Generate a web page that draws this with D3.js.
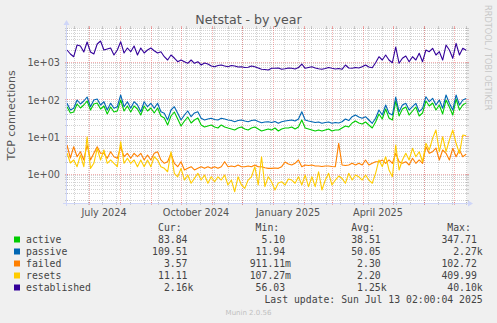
<!DOCTYPE html>
<html>
<head>
<meta charset="utf-8">
<script src="https://cdn.jsdelivr.net/npm/d3@7"></script>
<style>
  html, body { margin: 0; padding: 0; background: #f0f0f0; }
  svg { display: block; }
  text { white-space: pre; }
</style>
</head>
<body>
<svg id="chart" width="497" height="323"></svg>
<script>
// ---- data: netstat counters sampled every few days over the last year ----
const seriesNames  = ["active", "passive", "failed", "resets", "established"];
const seriesColors = ["#00cc00", "#0066b3", "#ff8000", "#ffcc00", "#330099"];

const active = [66.3,45.0,47.8,78.3,61.2,73.6,94.3,54.1,78.3,83.3, 57.5,69.2,42.3,65.1,47.8,50.9,100.3,50.9,69.2,47.8,
  69.2,57.5,39.7,69.2,50.9,61.2,45.0,61.2,37.4,33.0, 21.5,37.4,47.8,31.1,20.2,27.4,35.1,24.3,29.2,33.0,
  21.5,19.0,20.2,21.5,19.0,17.8,21.5,19.0,17.8,16.8, 15.8,17.8,19.0,16.8,15.8,17.8,19.0,16.8,14.8,15.8,
  16.8,15.8,17.8,14.8,16.8,17.8,17.8,19.0,16.8,19.0, 29.2,17.8,16.8,15.8,14.8,15.8,14.8,15.8,16.8,14.8,
  15.8,15.8,17.8,20.2,19.0,24.3,27.4,24.3,22.8,25.8, 21.5,17.8,25.8,42.3,31.1,57.5,33.0,29.2,94.3,37.4,
  57.5,65.1,39.7,50.9,65.1,37.4,45.0,94.3,69.2,83.3, 54.1,73.6,42.3,100.3,65.1,39.7,106.6,54.1,73.6,83.84];

const passive = [81.8,54.1,60.1,100.3,78.3,94.3,120.6,66.3,100.3,106.6, 73.6,90.3,54.1,81.8,60.1,66.3,136.5,66.3,90.3,60.1,
  90.3,73.6,48.7,90.3,66.3,81.8,60.1,81.8,48.7,44.1, 29.2,54.1,66.3,44.1,29.2,39.7,50.9,35.8,45.0,48.7,
  32.4,29.2,31.1,32.4,30.1,29.2,32.4,31.1,29.2,28.3, 26.3,28.3,29.2,27.4,26.3,28.3,29.2,26.6,24.7,25.8,
  26.3,25.0,26.6,23.8,26.3,27.4,28.3,29.2,27.4,31.1, 48.7,29.2,27.4,26.3,25.0,25.8,23.8,25.0,25.8,23.8,
  25.0,24.3,26.3,31.1,28.3,35.8,39.7,35.1,32.4,35.8, 29.2,23.8,32.4,54.1,39.7,73.6,44.1,39.7,120.6,48.7,
  73.6,81.8,54.1,66.3,81.8,48.7,60.1,122.9,90.3,111.3, 73.6,100.3,60.1,136.5,81.8,54.1,136.5,73.6,100.3,109.51];

const failed = [6.25,2.80,5.62,3.03,4.13,2.48,6.25,2.48,3.74,5.62, 3.74,3.74,2.75,4.13,3.03,2.75,5.62,3.03,3.74,2.75,
  3.74,3.03,3.74,2.48,3.37,2.48,3.74,4.13,2.48,2.02, 2.23,3.74,2.02,1.64,2.23,1.34,1.48,1.64,1.34,1.48,
  1.64,1.48,1.64,1.48,1.64,1.48,1.64,2.23,1.64,1.71, 1.64,1.82,1.64,1.64,1.71,1.64,1.82,1.64,1.64,1.54,
  1.48,1.48,1.51,1.48,1.64,2.19,1.93,1.82,2.02,2.48, 1.64,1.82,1.76,1.82,1.71,1.71,1.66,1.71,1.71,1.66,
  1.64,6.94,1.82,1.76,1.82,2.02,1.82,2.02,1.82,2.48, 1.82,2.02,2.23,2.23,2.48,2.02,2.48,2.02,3.74,2.23,
  2.02,2.23,1.82,2.75,2.02,2.48,2.02,5.62,3.74,4.13, 5.19,2.48,4.59,3.74,2.48,5.10,3.03,4.59,3.03,3.57];

const resets = [3.81,2.06,2.48,1.64,3.37,1.64,10.42,1.48,2.02,5.10, 2.48,4.59,2.02,2.48,2.02,1.64,7.66,2.02,2.75,2.02,
  2.48,1.64,2.48,1.64,2.48,1.64,3.03,2.48,1.64,1.48, 1.20,4.13,1.09,0.88,1.48,0.72,0.98,0.59,0.80,1.09,
  0.72,0.98,0.59,0.88,0.65,0.88,0.72,0.98,0.53,0.72, 0.35,0.88,0.53,0.43,0.72,0.88,1.64,0.53,3.03,0.48,
  0.88,0.64,0.39,0.60,0.65,0.53,0.77,0.72,0.59,0.88, 0.53,0.98,0.48,0.88,0.48,1.20,0.39,0.72,1.09,0.53,
  0.72,0.92,0.80,0.59,1.09,0.72,0.98,0.88,0.72,0.98, 0.72,0.59,1.09,2.48,1.64,3.03,1.34,0.88,6.25,1.34,
  2.48,3.74,2.48,5.10,3.03,4.13,2.23,6.94,4.59,9.44, 15.76,4.13,10.42,4.13,8.50,15.76,6.94,3.74,11.57,11.11];

const established = [2190,1711,1449,2981,2803,1936,3588,1936,1711,3171, 3815,2190,2330,2478,1609,2190,3655,1820,2478,1972,
  2803,1609,2478,1820,2190,2478,2098,1820,1972,1449, 1182,1609,1337,1064,1182,1064,964,1182,964,1064,
  868,982,923,816,782,842,868,816,782,842, 816,767,782,744,753,816,782,722,666,658,
  638,708,708,722,666,691,722,708,678,744, 923,708,744,782,722,691,666,700,744,708,
  678,700,666,868,722,708,744,722,782,868, 767,735,1000,1449,1182,1609,1182,1000,2635,964,
  1312,1513,1064,1449,1182,1786,1064,2190,1972,2432, 1609,1972,1182,2981,2190,1312,3311,1609,2432,2160];

const seriesValues = [active, passive, failed, resets, established];

// statistics printed in the legend (min / avg / max over the full-resolution data)
const legendMin = [5.10, 11.94, 0.91111, 0.10727, 56.03];
const legendAvg = [38.51, 50.05, 2.30, 2.20, 1250];
const legendMax = [347.71, 2270, 102.72, 409.99, 40100];

const yTicks = [1, 10, 100, 1000];
const xTickLabels = ["July 2024", "October 2024", "January 2025", "April 2025"];
const lastUpdate = "Last update: Sun Jul 13 02:00:04 2025";

// ---- geometry ----
const W = 497, H = 323;
const X0 = 67, X1 = 467, Y0 = 203, Y1 = 28;
const rangeStart = new Date(2024, 5, 9, 12);
const rangeEnd = d3.timeDay.offset(rangeStart, 400);
const sampleStepHours = 80.5;

const x = d3.scaleTime().domain([rangeStart, rangeEnd]).range([X0, X1]);
const y = d3.scaleLog().domain([0.1746, 8511]).range([Y0, Y1]);

const svg = d3.select("#chart");
svg.append("rect").attr("width", W).attr("height", H).attr("fill", "#f0f0f0");
svg.append("rect").attr("x", X0).attr("y", Y1).attr("width", X1 - X0).attr("height", Y0 - Y1).attr("fill", "#ffffff");

const crisp = v => Math.round(v) + 0.5;
const gridMinor = "rgba(140,140,140,0.38)";
const gridMajor = "rgba(230,80,80,0.45)";

// horizontal grid: minor 2..9 per decade, major at each decade
const grid = svg.append("g");
const hLines = [];
for (let k = -1; k <= 3; k++) {
  for (let m = 1; m <= 9; m++) {
    const v = m * Math.pow(10, k);
    if (v >= y.domain()[0] && v <= y.domain()[1]) hLines.push({ v, major: m === 1 });
  }
}
hLines.sort((a, b) => a.major - b.major).forEach(d => {
  const yy = crisp(y(d.v)) - 1;
  const col = d.major ? gridMajor : gridMinor;
  grid.append("line").attr("x1", X0).attr("x2", X1).attr("y1", yy).attr("y2", yy)
    .attr("stroke", col).attr("stroke-dasharray", "1,1");
  grid.append("line").attr("x1", X0 - 2).attr("x2", X0 + 1).attr("y1", yy).attr("y2", yy).attr("stroke", col);
  grid.append("line").attr("x1", X1 - 1).attr("x2", X1 + 2).attr("y1", yy).attr("y2", yy).attr("stroke", col);
});

// vertical grid: fortnightly minor lines, monthly major lines
const minorDates = d3.timeDay.every(1).range(new Date(2024, 5, 16), rangeEnd).filter((d, i) => i % 14 === 0);
const majorDates = d3.timeMonth.range(rangeStart, rangeEnd);
[[minorDates, gridMinor], [majorDates, gridMajor]].forEach(([dates, col]) => {
  dates.forEach(d => {
    const xx = crisp(x(d));
    if (xx <= X0 + 1 || xx >= X1) return;
    grid.append("line").attr("x1", xx).attr("x2", xx).attr("y1", Y1).attr("y2", Y0)
      .attr("stroke", col).attr("stroke-dasharray", "1,1");
    grid.append("line").attr("x1", xx).attr("x2", xx).attr("y1", Y1 - 2).attr("y2", Y1 + 1).attr("stroke", col);
    grid.append("line").attr("x1", xx).attr("x2", xx).attr("y1", Y0 - 1).attr("y2", Y0 + 2).attr("stroke", col);
  });
});

// series lines
const sampleTime = i => d3.timeHour.offset(rangeStart, Math.round(i * sampleStepHours));
const line = d3.line().x((d, i) => x(sampleTime(i))).y(d => y(d));
const plot = svg.append("g");
seriesValues.forEach((vals, s) => {
  plot.append("path").datum(vals).attr("d", line)
    .attr("fill", "none").attr("stroke", seriesColors[s]).attr("stroke-width", 1.1)
    .attr("stroke-linejoin", "round");
});

// axes lines with arrows
const axisCol = "#cfd6f8";
svg.append("line").attr("x1", 63).attr("x2", 470).attr("y1", Y0 + 0.5).attr("y2", Y0 + 0.5).attr("stroke", axisCol);
svg.append("line").attr("x1", X0 - 0.5).attr("x2", X0 - 0.5).attr("y1", 206).attr("y2", 24).attr("stroke", axisCol);
svg.append("path").attr("d", "M473,203.5 L468,200.5 L468,206.5 Z").attr("fill", axisCol);
svg.append("path").attr("d", "M66.5,20 L63.5,25 L69.5,25 Z").attr("fill", axisCol);

// tick labels
const expFmt = v => {
  const e = Math.round(Math.log10(v));
  return "1e" + (e < 0 ? "-" : "+") + String(Math.abs(e)).padStart(2, "0");
};
const yAxis = svg.append("g").attr("transform", `translate(${X0},0)`)
  .call(d3.axisLeft(y).tickValues(yTicks).tickFormat(expFmt).tickSize(0).tickPadding(7));
yAxis.select(".domain").remove();
yAxis.selectAll("text").attr("font-family", "DejaVu Sans").attr("font-size", 9.7).attr("fill", "#555");

const labelDates = majorDates.filter(d => d.getMonth() % 3 === 0).map(d => d3.timeDay.offset(d, 15));
const xAxis = svg.append("g").attr("transform", `translate(0,${Y0})`)
  .call(d3.axisBottom(x).tickValues(labelDates).tickFormat((d, i) => xTickLabels[i]).tickSize(0).tickPadding(6));
xAxis.select(".domain").remove();
xAxis.selectAll("text").attr("font-family", "DejaVu Sans").attr("font-size", 9.7).attr("fill", "#555");

// title and side texts
svg.append("text").attr("x", 248.5).attr("y", 24).attr("text-anchor", "middle")
  .attr("font-family", "DejaVu Sans").attr("font-size", 12.6).attr("fill", "#555").text("Netstat - by year");
svg.append("text").attr("transform", "translate(15,115.5) rotate(-90)").attr("text-anchor", "middle")
  .attr("font-family", "DejaVu Sans").attr("font-size", 11).attr("fill", "#555").text("TCP connections");
svg.append("text").attr("transform", "translate(485,5) rotate(90)").attr("text-anchor", "start")
  .attr("font-family", "DejaVu Sans").attr("font-size", 8.2).attr("fill", "#c8c8c8").text("RRDTOOL / TOBI OETIKER");

// legend
const mono = "DejaVu Sans Mono";
const fs = 9.8, charW = fs * 0.602;
const legendTxt = "#444";
const colRight = [193.4, 291, 386.6, 482.7];
const colHead = ["Cur:", "Min:", "Avg:", "Max:"];
const leg = svg.append("g").attr("font-family", mono).attr("font-size", fs).attr("fill", legendTxt);
colHead.forEach((h, c) => {
  leg.append("text").attr("x", colRight[c] - 2 * charW).attr("y", 231.3).attr("text-anchor", "end").text(h);
});
const rrdFmt = v => {
  if (v >= 1000) return { num: (v / 1000).toFixed(2), suf: "k" };
  if (v < 1) return { num: (v * 1000).toFixed(2), suf: "m" };
  return { num: v.toFixed(2), suf: "" };
};
seriesNames.forEach((name, s) => {
  const base = 243 + 12 * s;
  leg.append("rect").attr("x", 14).attr("y", base - 6.5).attr("width", 6).attr("height", 6).attr("fill", seriesColors[s]);
  leg.append("text").attr("x", 26).attr("y", base).text(name);
  const vals = seriesValues[s];
  const stats = [vals[vals.length - 1], legendMin[s], legendAvg[s], legendMax[s]];
  stats.forEach((v, c) => {
    const f = rrdFmt(v);
    leg.append("text").attr("x", colRight[c] - (f.suf ? 0 : charW)).attr("y", base)
      .attr("text-anchor", "end").text(f.num + f.suf);
  });
});
leg.append("text").attr("x", 482.7).attr("y", 302.6).attr("text-anchor", "end").text(lastUpdate);

svg.append("text").attr("x", 248.5).attr("y", 315).attr("text-anchor", "middle")
  .attr("font-family", "DejaVu Sans").attr("font-size", 7).attr("fill", "#c0c0c0").text("Munin 2.0.56");
</script>
</body>
</html>
